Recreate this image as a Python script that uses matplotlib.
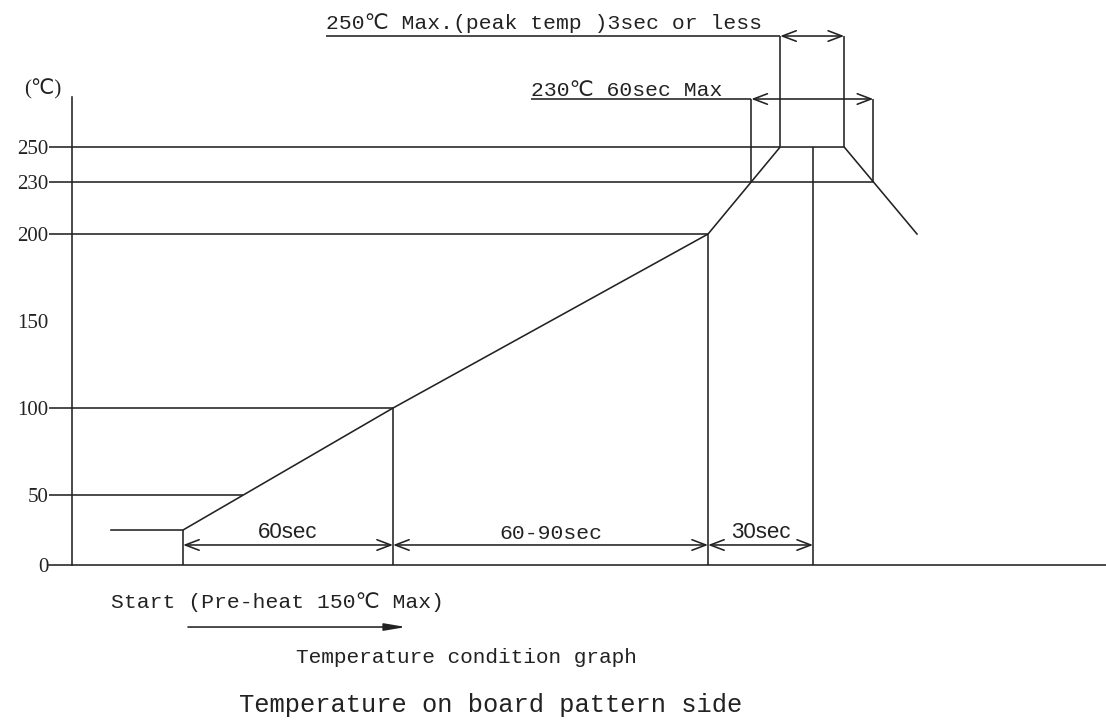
import numpy as np
import matplotlib
matplotlib.use("Agg")
import matplotlib.pyplot as plt

# Reflow profile (time in s, temperature in degC)
profile_time = [-20.6, 0, 60, 150, 170.6, 188.9, 209.7]
profile_temp = [25, 25, 100, 200, 250, 250, 200]

tick_temps = [0, 50, 100, 150, 200, 230, 250]
tick_labels = ["0", "50", "100", "150", "200", "230", "250"]

# stages along the time axis
stage_times = [0, 60, 150, 180]
stage_labels = ["60sec", "60-90sec", "30sec"]

peak_temp = 250
liquidus_temp = 230

ink = "#222222"
lw = 1.15
mono = ["Liberation Mono", "DejaVu Sans"]
serif = ["Liberation Serif", "DejaVu Sans"]


# the drawing is not to scale below 50 degC
def fwd(t):
    return np.interp(t, [-300, 0, 50, 500], [-420, 0, 70, 70 + 450 * 1.74])


def inv(p):
    return np.interp(p, [-420, 0, 70, 70 + 450 * 1.74], [-300, 0, 50, 500])


fig = plt.figure(figsize=(11.06, 7.26), dpi=100)
ax = fig.add_axes([0, 0, 1, 1])
ax.set_yscale("function", functions=(fwd, inv))
ax.set_xlim(-52.3, 263.7)
ax.set_ylim(-115, 334.5)

axis_x = -31.7
line_start = -38.3

# axes
for s in ["top", "right"]:
    ax.spines[s].set_visible(False)
ax.spines["left"].set_position(("data", axis_x))
ax.spines["left"].set_bounds(0, 279)
ax.spines["bottom"].set_position(("data", 0))
ax.spines["bottom"].set_bounds(line_start, 263.7)
for s in ["left", "bottom"]:
    ax.spines[s].set_linewidth(lw)
    ax.spines[s].set_color(ink)
ax.set_xticks([])
ax.set_yticks(tick_temps)
ax.set_yticklabels(tick_labels, family=serif, fontsize=15, color=ink)
ax.tick_params(axis="y", length=0, pad=17)
ax.text(-40, 283, "(℃)", family=serif, fontsize=15, color=ink,
        ha="center", va="center")

# profile
ax.plot(profile_time, profile_temp, color=ink, lw=lw)

# where each level line meets the profile (in drawn space)
pt = np.array(profile_time)
pp = fwd(np.array(profile_temp, dtype=float))
t50 = np.interp(fwd(50), pp[1:3], pt[1:3])
t230_up = np.interp(fwd(liquidus_temp), pp[3:5], pt[3:5])
t230_down = np.interp(-fwd(liquidus_temp), -pp[5:7], pt[5:7])
peak_start, peak_end = profile_time[4], profile_time[5]

level_ends = {50: t50, 100: stage_times[1], 200: stage_times[2],
              230: t230_down, 250: peak_start}
for temp, t_end in level_ends.items():
    ax.hlines(temp, line_start, t_end, color=ink, lw=lw)

# verticals down to the time axis
stage_tops = [profile_temp[1], 100, 200, peak_temp]
ax.vlines(stage_times, 0, stage_tops, color=ink, lw=lw)

# stage dimensions
dim_y = 14.3
arrow = "<->,head_length=1.0,head_width=0.38"
for i, lab in enumerate(stage_labels):
    ax.annotate("", xy=(stage_times[i], dim_y), xytext=(stage_times[i + 1], dim_y),
                arrowprops=dict(arrowstyle=arrow, shrinkA=0, shrinkB=0, lw=lw, color=ink))
    mid = (stage_times[i] + stage_times[i + 1]) / 2
    if lab == "60-90sec":
        ax.text(mid, 15.5, lab, family=mono, fontsize=15.4, color=ink,
                ha="center", va="bottom")
    else:
        ax.text(mid, 15.5, lab, family="Liberation Sans", fontsize=16, color=ink,
                ha="center", va="bottom")

# peak window (250 degC)
peak_dim = 313.8
ax.vlines([peak_start, peak_end], peak_temp, peak_dim, color=ink, lw=lw)
ax.hlines(peak_dim, 40.9, peak_start, color=ink, lw=lw)
ax.annotate("", xy=(peak_start, peak_dim), xytext=(peak_end, peak_dim),
            arrowprops=dict(arrowstyle=arrow, shrinkA=0, shrinkB=0, lw=lw, color=ink))
ax.text(40.9, 317.8, "250℃ Max.(peak temp )3sec or less", family=mono,
        fontsize=15.4, color=ink, ha="left", va="baseline")

# time above 230 degC
liq_dim = 277.6
ax.vlines([t230_up, t230_down], liquidus_temp, liq_dim, color=ink, lw=lw)
ax.hlines(liq_dim, 99.4, t230_up, color=ink, lw=lw)
ax.annotate("", xy=(t230_up, liq_dim), xytext=(t230_down, liq_dim),
            arrowprops=dict(arrowstyle=arrow, shrinkA=0, shrinkB=0, lw=lw, color=ink))
ax.text(99.4, 279.2, "230℃ 60sec Max", family=mono, fontsize=15.4, color=ink,
        ha="left", va="baseline")

# captions below the axis
ax.text(profile_time[0], -26.5, "Start (Pre-heat 150℃ Max)", family=mono,
        fontsize=15.4, color=ink, ha="left", va="center")
ax.annotate("", xy=(63.7, -44.3), xytext=(1.4, -44.3),
            arrowprops=dict(arrowstyle="-|>,head_length=1.3,head_width=0.22",
                            shrinkA=0, shrinkB=0, lw=lw, color=ink, fc=ink))
ax.text(80.9, -66.4, "Temperature condition graph", family=mono, fontsize=15.2,
        color=ink, ha="center", va="center")
ax.text(88, -100, "Temperature on board pattern side", family=mono, fontsize=18.4,
        color=ink, ha="center", va="center")

fig.savefig("out.png", dpi=100)
